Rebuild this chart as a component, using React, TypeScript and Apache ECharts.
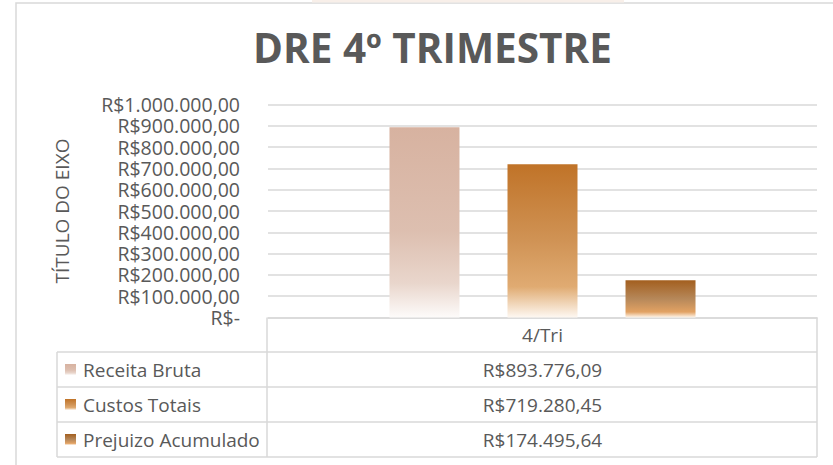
import React, { useEffect, useRef } from "react";
import * as echarts from "echarts";

const title = "DRE 4º TRIMESTRE";
const axisTitle = "TÍTULO DO EIXO";
const categories = ["4/Tri"];
const seriesNames = ["Receita Bruta", "Custos Totais", "Prejuizo Acumulado"];
const receitaBruta = [893776.09];
const custosTotais = [719280.45];
const prejuizoAcumulado = [174495.64];
const yMin = 0;
const yMax = 1000000;
const yInterval = 100000;

const FONT = "Open Sans";
const TEXT = "#595959";
const LINE = "#d9d9d9";

function fmt(v: number): string {
  if (v === 0) return "R$-";
  const [i, d] = v.toFixed(2).split(".");
  const int = i.replace(/\B(?=(\d{3})+(?!\d))/g, ".");
  return "R$" + int + "," + d;
}

const gradients = [
  [
    [0, "#D7B2A0"],
    [0.55, "#DDBFB0"],
    [0.82, "#E9D6CC"],
    [1, "#FDFBFA"],
  ],
  [
    [0, "#C07328"],
    [0.5, "#D09355"],
    [0.8, "#E0AB72"],
    [1, "#FEF8F2"],
  ],
  [
    [0, "#A35F1F"],
    [0.5, "#B6885A"],
    [0.85, "#E2A263"],
    [1, "#FFF6EC"],
  ],
];

function grad(i: number) {
  return new echarts.graphic.LinearGradient(
    0,
    0,
    0,
    1,
    gradients[i].map(([offset, color]) => ({ offset: offset as number, color: color as string }))
  );
}

export default function App() {
  const ref = useRef<HTMLDivElement>(null);
  useEffect(() => {
    if (!ref.current) return;
    const chart = echarts.init(ref.current, undefined, { renderer: "svg" });
    const seriesData = [receitaBruta, custosTotais, prejuizoAcumulado];
    const gridLeft = 268;
    const gridRight = 16;
    const gridTop = 104.5;
    const gridBottom = 147.5;
    chart.setOption({
      animation: false,
      textStyle: { fontFamily: FONT },
      title: {
        text: title,
        left: 248,
        top: 22,
        textStyle: { fontFamily: FONT, fontWeight: "bold", fontSize: 40.5, color: TEXT },
      },
      grid: { left: gridLeft, right: gridRight, top: gridTop, bottom: gridBottom, containLabel: false },
      xAxis: {
        type: "category",
        data: categories,
        axisLine: { show: true, lineStyle: { color: LINE, width: 1.5 } },
        axisTick: { show: false },
        axisLabel: {
          color: TEXT,
          fontSize: 19,
          fontFamily: FONT,
          verticalAlign: "middle",
          margin: 17.5,
        },
      },
      yAxis: {
        type: "value",
        min: yMin,
        max: yMax,
        interval: yInterval,
        name: axisTitle,
        nameLocation: "middle",
        nameRotate: 90,
        nameGap: 206,
        nameTextStyle: { color: TEXT, fontSize: 19, fontFamily: FONT, verticalAlign: "middle" },
        axisLine: { show: false },
        axisTick: { show: false },
        axisLabel: {
          color: TEXT,
          fontSize: 19.5,
          lineHeight: 20,
          fontFamily: FONT,
          margin: 28,
          formatter: (v: number) => fmt(v),
        },
        splitLine: { lineStyle: { color: LINE, width: 1.5 } },
      },
      series: seriesNames.map((name, i) => ({
        name,
        type: "bar",
        data: seriesData[i],
        barWidth: 70,
        barGap: "68.6%",
        itemStyle: { color: grad(i) },
      })),
    });

    const cx = chart.convertToPixel({ xAxisIndex: 0 }, categories[0]) as number;
    const tableLeft = 57;
    const tableRight = 817;
    const colX = 267;
    const headTop = 317.5;
    const rowTops = [352, 387, 422];
    const rowH = 35;
    const bottom = rowTops[rowTops.length - 1] + rowH;
    const lineStyle = { stroke: LINE, lineWidth: 1.5 };
    const elements: any[] = [
      {
        type: "rect",
        shape: { x: 16, y: 3, width: 900, height: 600 },
        style: { fill: "none", stroke: "#d9d9d9", lineWidth: 1.5 },
        silent: true,
        z: -1,
      },
      {
        type: "rect",
        shape: { x: 312, y: 0, width: 312, height: 2.5 },
        style: { fill: "#f8efe9" },
        silent: true,
      },
      { type: "line", shape: { x1: colX, y1: headTop, x2: colX, y2: bottom }, style: lineStyle },
      { type: "line", shape: { x1: tableRight, y1: headTop, x2: tableRight, y2: bottom }, style: lineStyle },
      { type: "line", shape: { x1: tableLeft, y1: rowTops[0], x2: tableLeft, y2: bottom }, style: lineStyle },
      { type: "line", shape: { x1: tableLeft, y1: bottom, x2: tableRight, y2: bottom }, style: lineStyle },
    ];
    rowTops.forEach((top, i) => {
      elements.push({ type: "line", shape: { x1: tableLeft, y1: top, x2: tableRight, y2: top }, style: lineStyle });
      const cy = top + rowH / 2;
      elements.push({
        type: "rect",
        shape: { x: 65, y: cy - 5.5, width: 11, height: 11 },
        style: { fill: grad(i) },
      });
      elements.push({
        type: "text",
        x: 83,
        y: cy,
        style: {
          text: seriesNames[i],
          fill: TEXT,
          font: `19px "${FONT}"`,
          textAlign: "left",
          textVerticalAlign: "middle",
        },
      });
      elements.push({
        type: "text",
        x: cx,
        y: cy,
        style: {
          text: fmt(seriesData[i][0]),
          fill: TEXT,
          font: `19px "${FONT}"`,
          textAlign: "center",
          textVerticalAlign: "middle",
        },
      });
    });
    chart.setOption({ graphic: { elements } });
    return () => chart.dispose();
  }, []);
  return (
    <div
      ref={ref}
      style={{ position: "absolute", left: 0, top: 0, width: 833, height: 465, background: "#fff" }}
    />
  );
}
